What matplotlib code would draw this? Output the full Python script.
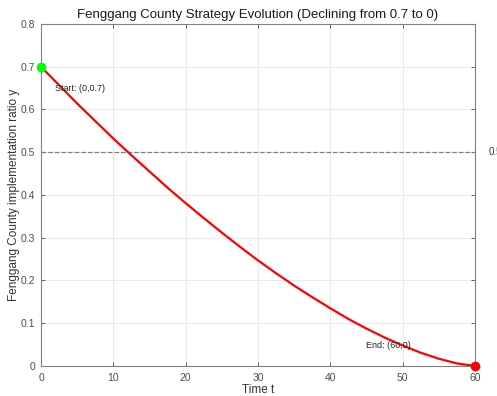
import matplotlib
matplotlib.use("Agg")
import matplotlib.pyplot as plt

plt.rcParams["font.family"] = ["Liberation Sans", "DejaVu Sans"]

# values
t_vals = [0, 2.5, 5, 7.5, 10, 12.5, 15, 17.5, 20, 22.5, 25, 27.5, 30,
          32.5, 35, 37.5, 40, 42.5, 45, 47.5, 50, 52.5, 55, 57.5, 60]
y_vals = [0.700, 0.657, 0.614, 0.573, 0.532, 0.493, 0.455, 0.417, 0.381,
          0.346, 0.312, 0.279, 0.247, 0.217, 0.188, 0.161, 0.135, 0.110,
          0.0875, 0.0666, 0.048, 0.031, 0.017, 0.006, 0.0]
threshold = 0.5
x_ticks = [0, 10, 20, 30, 40, 50, 60]
y_ticks = [0, 0.1, 0.2, 0.3, 0.4, 0.5, 0.6, 0.7, 0.8]
y_tick_labels = ["0", "0.1", "0.2", "0.3", "0.4", "0.5", "0.6", "0.7", "0.8"]

EDGE = "#808080"
TICK = "#4d4d4d"

fig = plt.figure(figsize=(4.97, 3.96), dpi=100)
ax = fig.add_axes([0.0825, 0.0758, 0.8732, 0.8636])

ax.plot(t_vals, y_vals, color="red", lw=1.6, zorder=3)
ax.axhline(threshold, color="#808080", ls="--", lw=0.9, zorder=2)
ax.text(61.9, threshold, "0.5", fontsize=7, color="#333333",
        va="center", ha="left", clip_on=False)

ax.plot(t_vals[0], y_vals[0], "o", color="#00ff00", ms=6, zorder=4, clip_on=False)
ax.plot(t_vals[-1], y_vals[-1], "o", color="red", ms=6, zorder=4, clip_on=False)
ax.text(1.9, 0.650, "Start: (0,0.7)", fontsize=6.5, color="#222222", va="center")
ax.text(44.9, 0.049, "End: (60,0)", fontsize=6.5, color="#222222", va="center")

ax.set_xlim(0, 60)
ax.set_ylim(0, 0.8)
ax.set_xticks(x_ticks)
ax.set_yticks(y_ticks)
ax.set_yticklabels(y_tick_labels)
ax.grid(True, color="#e6e6e6", lw=0.6)
ax.set_axisbelow(True)
ax.tick_params(direction="in", length=3, labelsize=7.5, colors=TICK,
               top=True, right=True, width=0.6, pad=4)
ax.tick_params(axis="x", pad=5)
for s in ax.spines.values():
    s.set_color(EDGE)
    s.set_linewidth(0.8)

ax.set_title("Fenggang County Strategy Evolution (Declining from 0.7 to 0)",
             fontsize=9.5, color="#1a1a1a", pad=4)
ax.set_xlabel("Time t", fontsize=8.5, color="#333333", labelpad=1)
ax.set_ylabel("Fenggang County implementation ratio y", fontsize=8.5,
              color="#333333", labelpad=1)

fig.savefig("out.png", dpi=100, facecolor="white")
